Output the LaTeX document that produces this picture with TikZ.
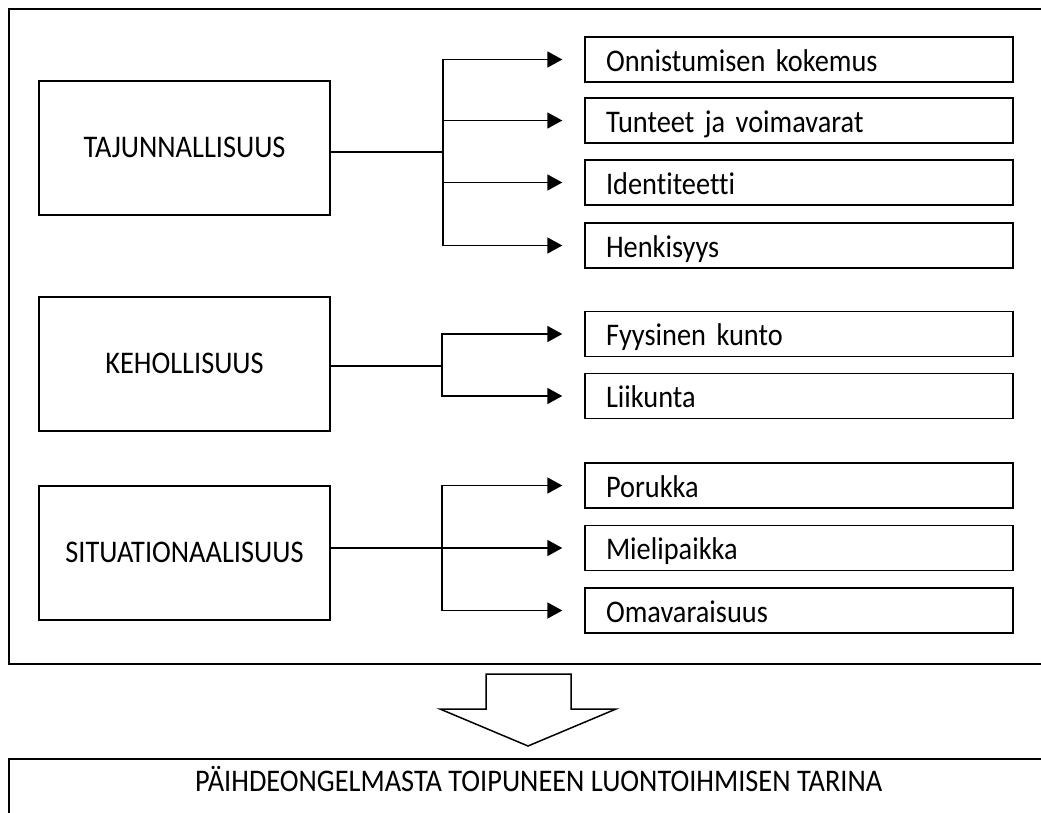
\documentclass[tikz,border=0pt]{standalone}
\usepackage{fontspec}
\setmainfont{Carlito}[FakeStretch=0.9, Ligatures=NoCommon]
\usetikzlibrary{arrows.meta}
\begin{document}
\begin{tikzpicture}[x=1pt,y=-1pt,
  every node/.style={font=\fontsize{31.5}{36}\selectfont},
  mainbox/.style={draw, line width=1.3pt, minimum width=291pt, minimum height=134pt, inner sep=0pt, text height=19.4pt, text depth=0pt},
  subbox/.style={draw, line width=1.4pt, minimum width=428pt, minimum height=45pt, inner sep=0pt, text width=386pt, align=left, text height=23pt, text depth=0pt},
  link/.style={line width=1.8pt},
  arr/.style={link, -{Triangle[length=15pt,width=16pt]}, shorten >=22pt},
  bigarrow/.style={line width=1.5pt, line join=miter},
]
\useasboundingbox (0,0) rectangle (1041,812);
\clip (0,0) rectangle (1041,812);

\node[draw, line width=2pt, anchor=north west, minimum width=1060pt, minimum height=655pt, inner sep=0pt] (frame) at (8,8) {};

\node[mainbox] (taj) at (184.5,148) {TAJUNNALLISUUS};
\node[mainbox] (keh) at (184.5,364) {KEHOLLISUUS};
\node[mainbox] (sit) at (184.5,553) {SITUATIONAALISUUS};

\node[subbox] (t1) at (799,59.5) {Onnistumisen kokemus};
\node[subbox] (t2) at (799,120.5) {Tunteet ja voimavarat};
\node[subbox] (t3) at (799,182.5) {Identiteetti};
\node[subbox] (t4) at (799,245.5) {Henkisyys};
\node[subbox] (k1) at (799,334) {Fyysinen kunto};
\node[subbox] (k2) at (799,396) {Liikunta};
\node[subbox] (s1) at (799,485.5) {Porukka};
\node[subbox] (s2) at (799,548) {Mielipaikka};
\node[subbox] (s3) at (799,610.5) {Omavaraisuus};

\coordinate (tb) at (443,152);
\coordinate (kb) at (442,366);
\coordinate (sb) at (442,548);

\draw[link] (taj.east |- tb) -- (tb);
\draw[arr] (tb) |- (t1.west);
\draw[arr] (tb) |- (t4.west);
\draw[arr] (tb |- t2.west) -- (t2.west);
\draw[arr] (tb |- t3.west) -- (t3.west);

\draw[link] (keh.east |- kb) -- (kb);
\draw[arr] (kb) |- (k1.west);
\draw[arr] (kb) |- (k2.west);

\draw[arr] (sit.east |- s2.west) -- (s2.west);
\draw[arr] (sb) |- (s1.west);
\draw[arr] (sb) |- (s3.west);

\draw[bigarrow] (486,674) -- (571,674) -- (571,709) -- (616,709) -- (528,746) -- (440,709) -- (486,709) -- cycle;

\node[draw, line width=1.5pt, anchor=north west, minimum width=1060pt, inner sep=0pt, text height=33pt, text depth=60pt] (story) at (8,758) {PÄIHDEONGELMASTA TOIPUNEEN LUONTOIHMISEN TARINA};
\end{tikzpicture}
\end{document}
